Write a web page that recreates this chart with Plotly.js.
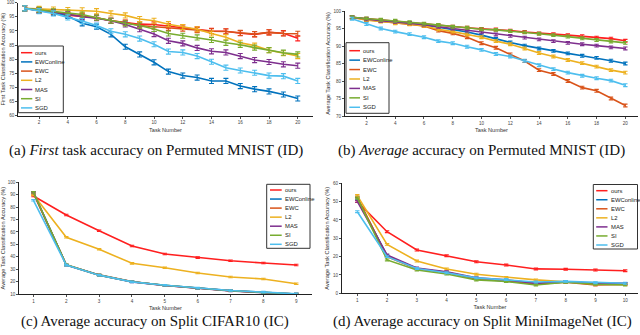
<!DOCTYPE html>
<html>
<head>
<meta charset="utf-8">
<script src="https://cdn.plot.ly/plotly-3.0.1.min.js"></script>
<style>
  html, body { margin: 0; padding: 0; background: #fff; }
  #chart { width: 640px; height: 335px; }
</style>
</head>
<body>
<div id="chart"></div>
<script>
'use strict'

// task numbers

const tasks_mnist = [1, 2, 3, 4, 5, 6, 7, 8, 9, 10, 11, 12, 13, 14, 15, 16, 17, 18, 19, 20]
const tasks_cifar = [1, 2, 3, 4, 5, 6, 7, 8, 9]
const tasks_mini = [1, 2, 3, 4, 5, 6, 7, 8, 9, 10]

const methods = ['ours', 'EWConline', 'EWC', 'L2', 'MAS', 'SI', 'SGD']
const colors = ['#ff1f1f', '#0072bd', '#d95319', '#edb120', '#7e2f8e', '#77ac30', '#4dbeee']

// (a) first task accuracy, permuted MNIST

const first_ours = [98, 97.3, 96.6, 95.6, 95.2, 94.7, 93.6, 92.9, 92.4, 92.3, 91.7, 91.3, 90.6, 90.0, 89.9, 89.2, 88.8, 89.5, 89.2, 87.4]
const first_ewconline = [98, 97.2, 96.5, 95.3, 92.7, 91.5, 88.8, 84.4, 81.7, 78.9, 75.6, 74.2, 73.5, 72.3, 72.3, 70.5, 69.4, 68.6, 67.5, 66.1]
const first_ewc = [98, 97.4, 96.8, 95.9, 95.4, 94.7, 93.6, 93.0, 91.9, 91.5, 91.0, 90.8, 90.3, 89.9, 89.8, 89.3, 88.9, 89.5, 89.1, 89.0]
const first_l2 = [98, 97.8, 97.6, 97.4, 97.3, 97.0, 96.2, 95.5, 94.2, 93.6, 92.4, 91.4, 90.6, 89.1, 87.8, 85.8, 84.8, 83.2, 82.1, 81.1]
const first_mas = [98, 97.4, 96.7, 95.9, 95.0, 94.5, 93.6, 92.3, 90.6, 88.9, 86.5, 85.6, 84.0, 82.8, 82.4, 81.1, 79.7, 79.0, 78.2, 77.7]
const first_si = [98, 97.5, 96.9, 96.5, 95.8, 94.7, 93.6, 92.7, 91.9, 90.7, 89.1, 88.3, 87.7, 86.8, 85.8, 85.1, 84.1, 83.2, 82.3, 81.7]
const first_sgd = [98, 97.0, 96.2, 94.8, 93.5, 91.9, 89.9, 88.8, 87.3, 85.3, 82.7, 82.4, 81.1, 79.1, 77.0, 76.0, 75.2, 74.2, 74.0, 72.3]

// (b) average accuracy, permuted MNIST

const avg_ours = [98.2, 97.8, 97.4, 97.0, 96.6, 96.2, 95.9, 95.5, 95.2, 94.9, 94.7, 94.4, 94.0, 93.6, 93.4, 93.1, 92.8, 92.4, 92.1, 91.5]
const avg_ewconline = [98.2, 97.6, 97.1, 96.7, 96.4, 96.0, 95.4, 94.8, 94.0, 93.1, 92.0, 91.0, 90.1, 89.3, 88.6, 87.9, 87.2, 86.6, 85.8, 85.0]
const avg_ewc = [98.2, 97.5, 97.1, 96.7, 96.3, 95.7, 94.4, 93.6, 92.5, 90.8, 89.5, 87.6, 85.7, 83.1, 82.0, 80.0, 78.1, 77.2, 75.0, 73.0]
const avg_l2 = [98.2, 97.4, 97.0, 96.5, 96.2, 95.8, 94.8, 94.1, 93.3, 92.5, 91.4, 90.5, 89.3, 88.0, 87.0, 86.0, 85.1, 84.1, 83.1, 82.4]
const avg_mas = [98.2, 97.6, 97.2, 96.9, 96.6, 96.1, 95.5, 95.0, 94.4, 93.9, 93.3, 92.9, 92.4, 91.9, 91.4, 90.9, 90.5, 90.1, 89.6, 89.3]
const avg_si = [98.2, 97.9, 97.5, 97.2, 96.8, 96.4, 96.0, 95.5, 95.2, 94.8, 94.6, 94.3, 93.9, 93.5, 93.1, 92.7, 92.2, 91.7, 91.3, 90.9]
const avg_sgd = [97.8, 96.3, 95.0, 94.1, 93.4, 92.5, 91.4, 90.8, 89.8, 88.9, 87.7, 87.0, 85.8, 84.5, 83.4, 82.4, 81.5, 80.8, 80.1, 78.8]

// (c) average accuracy, split CIFAR10

const cifar_ours = [89, 73.7, 61, 48.7, 42.2, 39.3, 36.8, 35, 33.4]
const cifar_ewconline = [92, 33.4, 25.3, 19.9, 17.0, 14.6, 12.7, 11.4, 10.0]
const cifar_ewc = [91, 33.6, 25.4, 20.0, 16.9, 14.5, 12.6, 11.2, 9.9]
const cifar_l2 = [90, 55.7, 46, 34.7, 31.2, 26.9, 23.7, 22.1, 18.3]
const cifar_mas = [92, 33.2, 25.1, 19.8, 16.8, 14.4, 12.5, 11.1, 9.9]
const cifar_si = [92, 33.5, 25.2, 19.9, 17.0, 14.6, 12.6, 11.3, 10.0]
const cifar_sgd = [85.5, 33.3, 25.2, 19.8, 17.0, 14.7, 12.8, 11.5, 10.1]

// (d) average accuracy, split MiniImageNet

const mini_ours = [50, 33.6, 23.6, 20.5, 17.2, 15.4, 13.3, 13.1, 12.7, 12.3]
const mini_ewconline = [51.8, 20.5, 13.5, 11.3, 8.0, 6.7, 5.3, 6.2, 5.3, 5.3]
const mini_ewc = [52.5, 20.0, 13.3, 11.5, 8.0, 7.0, 5.0, 6.0, 4.5, 4.8]
const mini_l2 = [53.3, 26.7, 17.6, 13.3, 10.4, 8.7, 7.3, 6.3, 5.1, 5.0]
const mini_mas = [50.2, 20.9, 13.8, 11.8, 8.5, 7.3, 5.4, 6.3, 5.4, 5.4]
const mini_si = [52, 18.2, 12.7, 10.5, 7.3, 6.4, 4.5, 6.0, 4.9, 4.5]
const mini_sgd = [44.5, 20.0, 13.5, 11.2, 8.4, 7.5, 6.2, 6.5, 5.8, 5.5]

///////////////////////////////////////////////////////

const W = 640, H = 335
const fx = p => p / W
const fy = p => 1 - p / H

const panels = [
  {
    tasks: tasks_mnist,
    series: [first_ours, first_ewconline, first_ewc, first_l2, first_mas, first_si, first_sgd],
    err: 0.9, cap: 2.5,
    xdom: [18.3, 312.7], ydom: [2.7, 115.7],
    xrange: [0.555, 21.04], yrange: [60, 100], xdtick: 2, ydtick: 5,
    ytitle: 'First Task Classification Accuracy (%)',
    legend: { box: [18.3, 46, 63.3, 112.7], row0: 52.7, step: 9.2, line: [21, 32.3], text: 33.3 },
    caption: { text: '(a) <i>First</i> task accuracy on Permuted MNIST (ID)', x: 156, y: 150.5 }
  },
  {
    tasks: tasks_mnist,
    series: [avg_ours, avg_ewconline, avg_ewc, avg_l2, avg_mas, avg_si, avg_sgd],
    err: 0.4, cap: 2.2,
    xdom: [345, 638], ydom: [11, 116],
    xrange: [0.51, 20.88], yrange: [70, 100], xdtick: 2, ydtick: 5,
    ytitle: 'Average Task Classification Accuracy (%)',
    legend: { box: [346, 42.7, 389, 113.3], row0: 50.7, step: 9.43, line: [349.3, 360], text: 361 },
    caption: { text: '(b) <i>Average</i> accuracy on Permuted MNIST (ID)', x: 481.5, y: 150.5 }
  },
  {
    tasks: tasks_cifar,
    series: [cifar_ours, cifar_ewconline, cifar_ewc, cifar_l2, cifar_mas, cifar_si, cifar_sgd],
    err: 0.6, cap: 2.2,
    xdom: [19.3, 311.7], ydom: [182.3, 294],
    xrange: [0.57, 9.47], yrange: [10, 100], xdtick: 1, ydtick: 10,
    ytitle: 'Average Task Classification Accuracy (%)',
    legend: { box: [266.7, 184.3, 310, 248.3], row0: 190, step: 9.05, line: [270, 281.7], text: 282.5 },
    caption: { text: '(c) Average accuracy on Split CIFAR10 (IC)', x: 155, y: 321 }
  },
  {
    tasks: tasks_mini,
    series: [mini_ours, mini_ewconline, mini_ewc, mini_l2, mini_mas, mini_si, mini_sgd],
    err: 0.5, cap: 2.2,
    xdom: [342, 638], ydom: [183.3, 293.3],
    xrange: [0.486, 10.43], yrange: [0, 60], xdtick: 1, ydtick: 10,
    ytitle: 'Average Task Classification Accuracy (%)',
    legend: { box: [593.3, 184.5, 637.5, 249], row0: 190.7, step: 9.05, line: [596.2, 607.5], text: 608.5 },
    caption: { text: '(d) Average accuracy on Split MiniImageNet (IC)', x: 482, y: 321 }
  }
]

const sans = 'Liberation Sans, Arial, sans-serif'

const axisStyle = {
  showline: true,
  linecolor: '#222',
  linewidth: 1,
  ticks: 'outside',
  ticklen: 2,
  tickwidth: 0.8,
  tickcolor: '#222',
  tickfont: { family: sans, size: 4.6, color: '#444' },
  showgrid: false,
  zeroline: false,
  fixedrange: true
}

const traces = []
const shapes = []
const annotations = []
const layout = {
  width: W,
  height: H,
  margin: { l: 0, r: 0, t: 0, b: 0 },
  paper_bgcolor: '#fff',
  plot_bgcolor: '#fff',
  showlegend: false,
  font: { family: sans, color: '#222' }
}

panels.forEach((p, pi) => {
  const n = pi === 0 ? '' : String(pi + 1)

  layout['xaxis' + n] = Object.assign({}, axisStyle, {
    domain: [fx(p.xdom[0]), fx(p.xdom[1])],
    range: p.xrange,
    dtick: p.xdtick,
    tick0: 0,
    anchor: 'y' + n,
    title: { text: 'Task Number', font: { family: sans, size: 5.6, color: '#333' }, standoff: 3 }
  })
  layout['yaxis' + n] = Object.assign({}, axisStyle, {
    domain: [fy(p.ydom[1]), fy(p.ydom[0])],
    range: p.yrange,
    dtick: p.ydtick,
    tick0: 0,
    anchor: 'x' + n,
    title: { text: p.ytitle, font: { family: sans, size: 5.6, color: '#333' }, standoff: 2 }
  })

  p.series.forEach((vals, si) => {
    traces.push({
      type: 'scatter',
      mode: 'lines',
      name: methods[si],
      x: p.tasks,
      y: vals,
      xaxis: 'x' + n,
      yaxis: 'y' + n,
      line: { color: colors[si], width: 1.6 },
      error_y: { type: 'constant', value: p.err, color: colors[si], thickness: 1.1, width: p.cap },
      hoverinfo: 'none'
    })
  })

  // legend box, drawn by hand so the rows stay compact

  const lg = p.legend
  shapes.push({
    type: 'rect', xref: 'paper', yref: 'paper', layer: 'above',
    x0: fx(lg.box[0]), x1: fx(lg.box[2]), y0: fy(lg.box[3]), y1: fy(lg.box[1]),
    line: { color: '#333', width: 1 }, fillcolor: '#fff'
  })
  methods.forEach((m, i) => {
    const y = lg.row0 + i * lg.step
    shapes.push({
      type: 'line', xref: 'paper', yref: 'paper', layer: 'above',
      x0: fx(lg.line[0]), x1: fx(lg.line[1]), y0: fy(y), y1: fy(y),
      line: { color: colors[i], width: 1.5 }
    })
    annotations.push({
      xref: 'paper', yref: 'paper', x: fx(lg.text), y: fy(y),
      xanchor: 'left', yanchor: 'middle', showarrow: false,
      text: m, font: { family: sans, size: 5.9, color: '#222' }
    })
  })

  // caption

  annotations.push({
    xref: 'paper', yref: 'paper', x: fx(p.caption.x), y: fy(p.caption.y),
    xanchor: 'center', yanchor: 'middle', showarrow: false,
    text: p.caption.text,
    font: { family: 'Liberation Serif, Times New Roman, serif', size: 15, color: '#111' }
  })
})

layout.shapes = shapes
layout.annotations = annotations

Plotly.newPlot('chart', traces, layout, { staticPlot: true, displayModeBar: false })
</script>
</body>
</html>
